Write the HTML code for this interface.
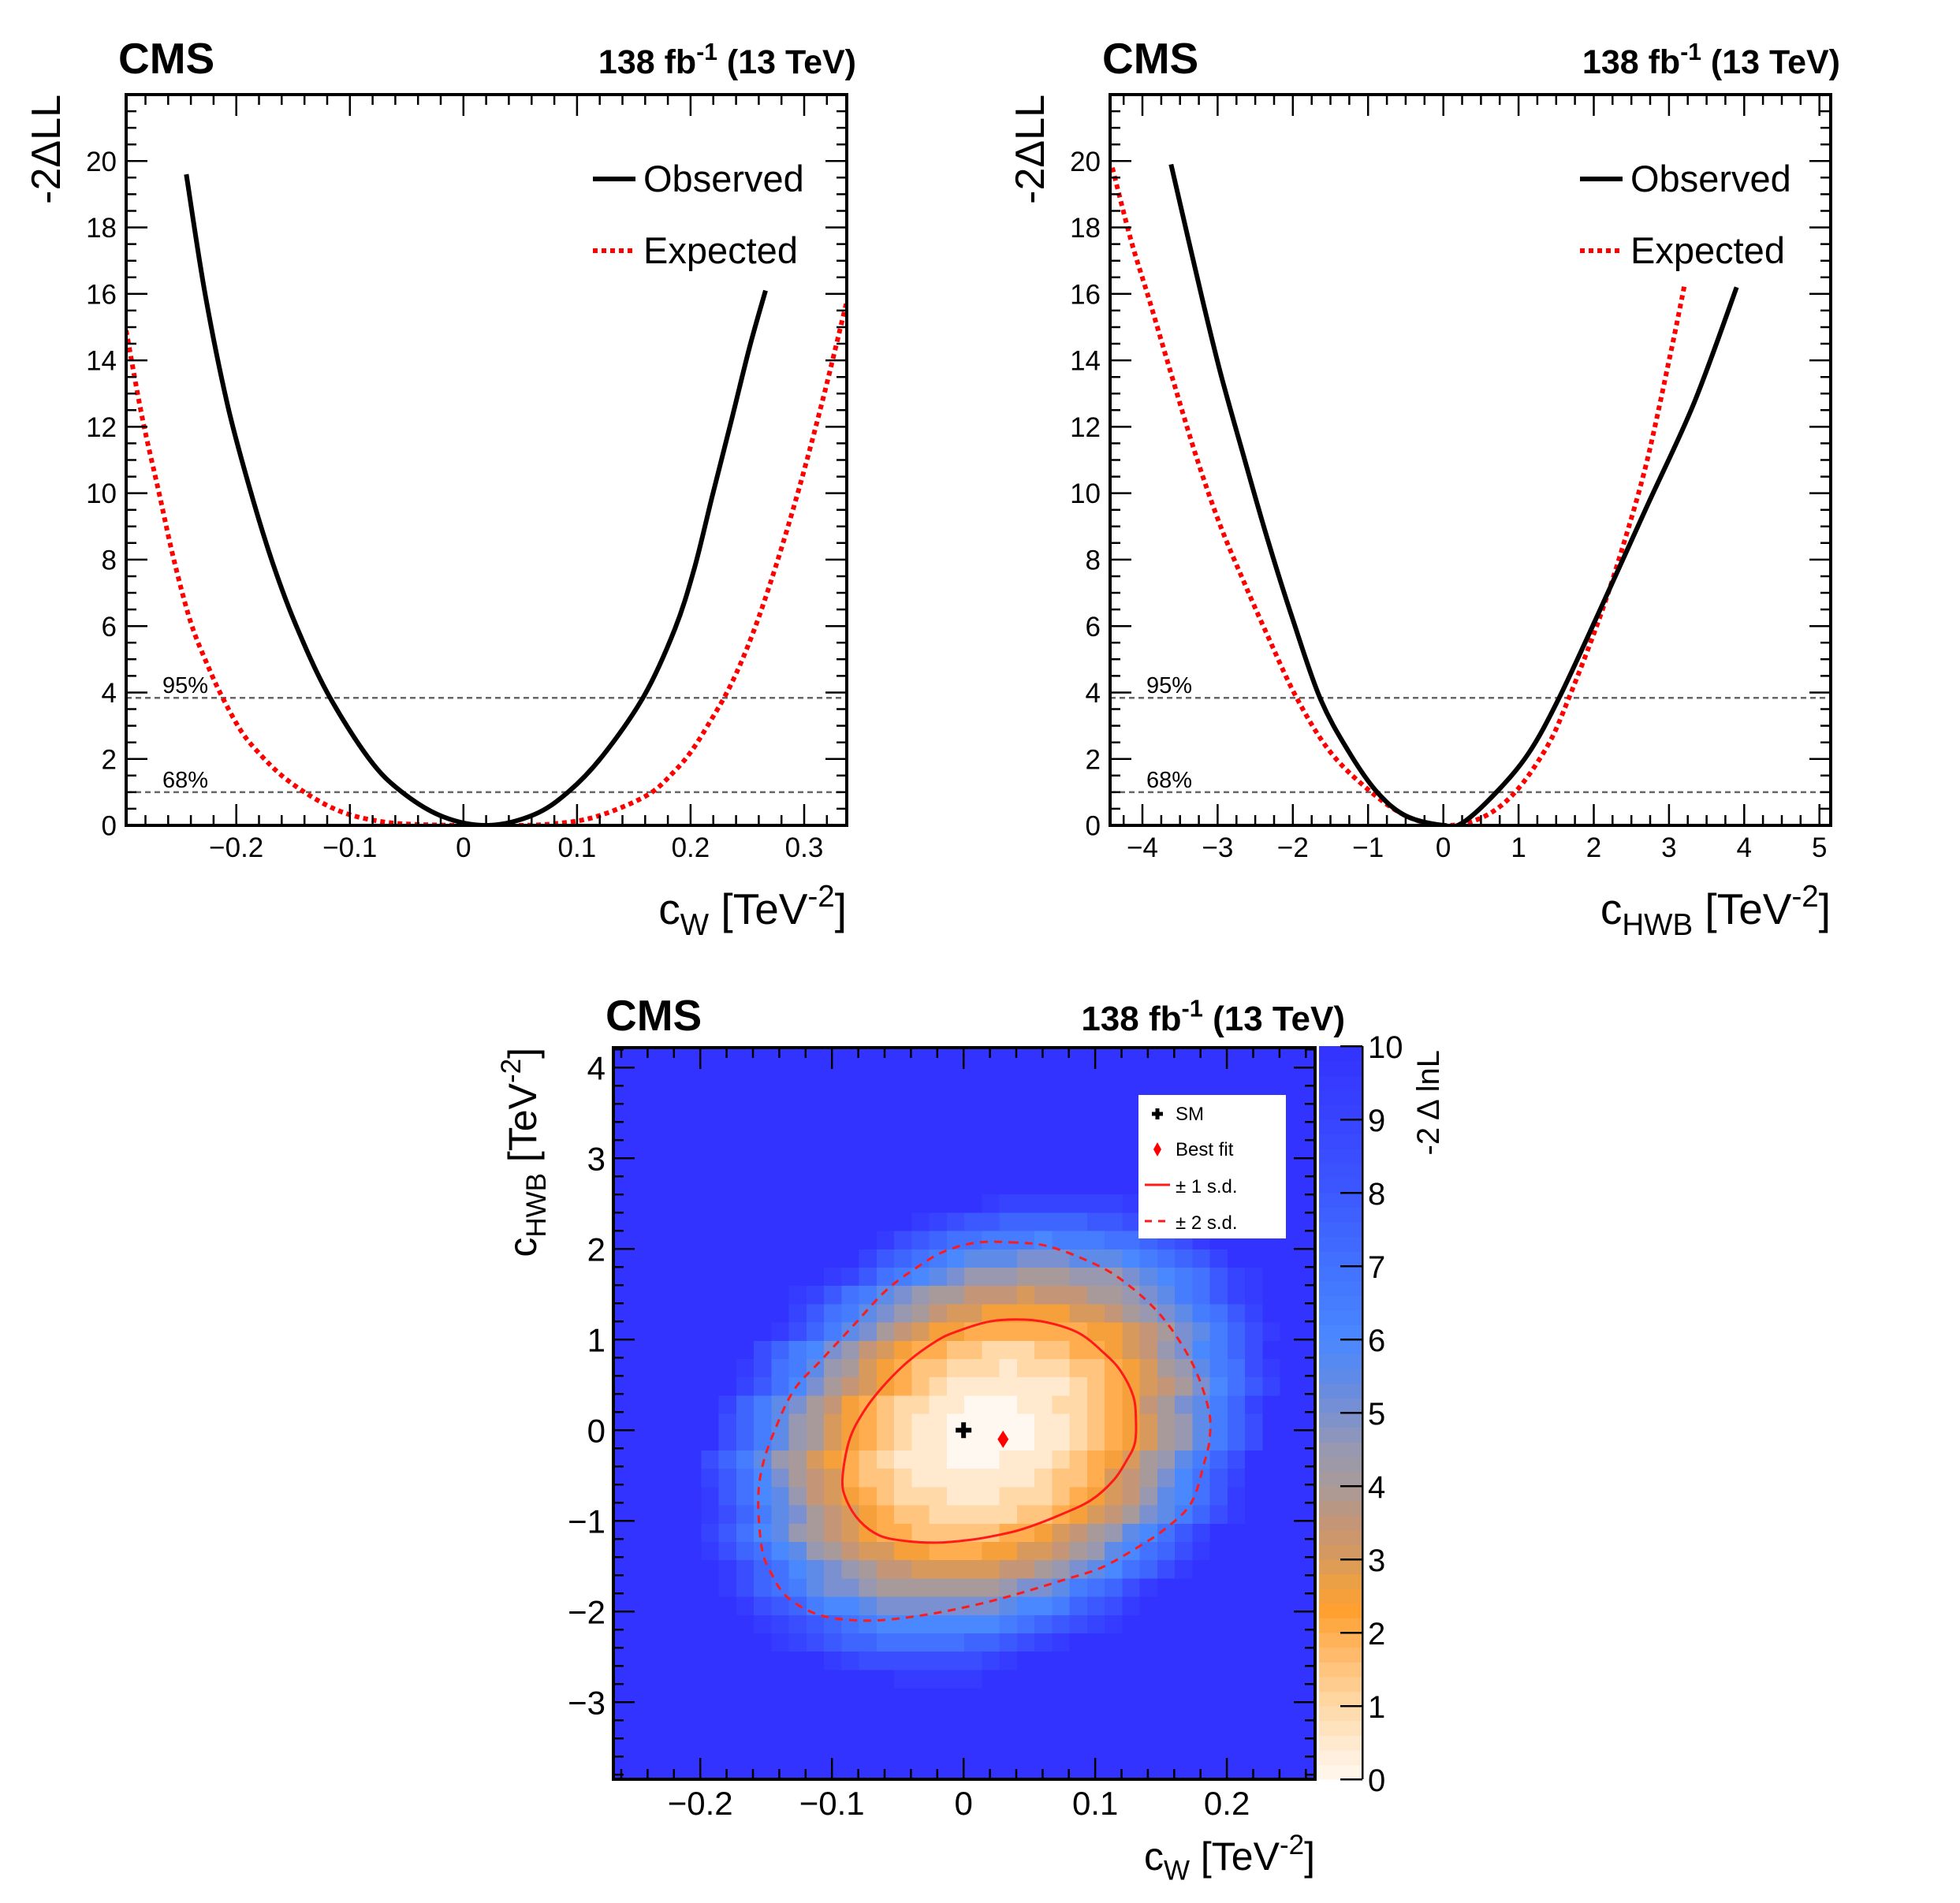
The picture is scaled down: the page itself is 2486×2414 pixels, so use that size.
<!DOCTYPE html>
<html><head><meta charset="utf-8"><style>
html,body{margin:0;padding:0;background:#fff}
svg{display:block}
text{font-family:"Liberation Sans",Helvetica,Arial,sans-serif;fill:#000}
</style></head><body>
<svg id="root" xmlns="http://www.w3.org/2000/svg" width="2486" height="2414" viewBox="0 0 2486 2414">
<rect x="0" y="0" width="2486" height="2414" fill="#fff"/>
<g id="p1"></g>
<g id="p2"></g>
<g id="p3"></g>
</svg>
<script>
// ---------------- data ----------------
const cwObsX = [-0.244,-0.228,-0.208,-0.187,-0.168,-0.148,-0.120,-0.083,-0.054,-0.018,0.022,0.062,0.092,0.122,0.159,0.186,0.203,0.219,0.236,0.252,0.266];
const cwObsY = [19.6,16.1,12.7,10.0,7.9,6.07,4.0,2.0,1.0,0.26,0,0.32,1.0,2.07,3.9,5.9,7.7,9.9,12.2,14.4,16.1];
const cwExpX = [-0.297,-0.283,-0.268,-0.255,-0.24,-0.225,-0.212,-0.195,-0.178,-0.16,-0.14,-0.12,-0.1,-0.075,-0.05,0,0.05,0.08,0.11,0.14,0.166,0.185,0.2,0.215,0.235,0.255,0.275,0.296,0.317,0.337];
const cwExpY = [14.9,12.3,10.0,8.0,6.1,4.8,3.84,2.8,2.1,1.5,1.0,0.6,0.32,0.13,0.04,0,0,0.05,0.2,0.55,1.0,1.6,2.2,3.0,4.2,5.8,7.8,10.2,12.9,15.7];
const hwbObsX = [-3.62,-3.21,-2.96,-2.64,-2.33,-2.01,-1.64,-1.26,-0.88,-0.5,0,0.25,0.69,1.13,1.54,2.08,2.7,3.33,3.9];
const hwbObsY = [19.9,15.9,13.6,11.0,8.56,6.26,3.84,2.23,1.0,0.29,0,0.07,0.96,2.16,3.84,6.47,9.57,12.7,16.2];
const hwbExpX = [-4.4,-4.15,-3.9,-3.58,-3.27,-2.96,-2.64,-2.33,-1.95,-1.51,-1.0,-0.5,0,0.5,0.94,1.38,1.67,2.08,2.39,2.7,3.02,3.21];
const hwbExpY = [19.8,17.6,15.75,13.3,11.0,9.0,7.27,5.68,3.84,2.23,1.08,0.29,0,0.22,0.96,2.37,3.84,6.26,8.42,10.9,14.2,16.3];
const cl68 = 1.0, cl95 = 3.84;
const p1XTicks = [-0.2,-0.1,0,0.1,0.2,0.3];
const p2XTicks = [-4,-3,-2,-1,0,1,2,3,4,5];
const p12YTicks = [0,2,4,6,8,10,12,14,16,18,20];
// 2D heatmap: 40 x 40 bins, rows bottom->top, char = 2*(-2ΔlnL) (0-9, a=10 ... k=20 i.e. 10)
const hmRows = [
"kkkkkkkkkkkkkkkkkkkkkkkkkkkkkkkkkkkkkkkk",
"kkkkkkkkkkkkkkkkkkkkkkkkkkkkkkkkkkkkkkkk",
"kkkkkkkkkkkkkkkkkkkkkkkkkkkkkkkkkkkkkkkk",
"kkkkkkkkkkkkkkkkkkkkkkkkkkkkkkkkkkkkkkkk",
"kkkkkkkkkkkkkkkkkkkkkkkkkkkkkkkkkkkkkkkk",
"kkkkkkkkkkkkkkkkjjjjjkkkkkkkkkkkkkkkkkkk",
"kkkkkkkkkkkkjihhhhhhhijkkkkkkkkkkkkkkkkk",
"kkkkkkkkkjihgffeeeeeffghijkkkkkkkkkkkkkk",
"kkkkkkkkjihgfedcccccccdefghijkkkkkkkkkkk",
"kkkkkkkjhgfdccbaaaaaaabccdfghjkkkkkkkkkk",
"kkkkkkjhfedbaa988888889aabdefhjkkkkkkkkk",
"kkkkkkjhfecba9877666667789abcefhjkkkkkkk",
"kkkkkjhfecb98766554445566789bcefhjkkkkkk",
"kkkkkigecb9876544333334456789bcegikkkkkk",
"kkkkkjhfdba8765433222223345678abdfhjkkkk",
"kkkkkjgecb976543222111222345679bcegjkkkk",
"kkkkkigeca876433211111112334678acegikkkk",
"kkkkkhfdb98654321110001112345689bdfhkkkk",
"kkkkkkhfdb98654321100000112345689bdfhkkk",
"kkkkkkhfdb98654321100000112345689bdfhkkk",
"kkkkkkifdba875432211000112234578abdfikkk",
"kkkkkkkigeca876543211111112345678acegikk",
"kkkkkkkjhedb986543322212223345689bdehjkk",
"kkkkkkkkhfdca9765443322233445679acdfhkkk",
"kkkkkkkkkjhfdba87655444444455678abdfhjkk",
"kkkkkkkkkkigedba987665555566789abdegikkk",
"kkkkkkkkkkjigedba9887776777889abdegijkkk",
"kkkkkkkkkkkkjigedcba999888999abcdegijkkk",
"kkkkkkkkkkkkkkigfedcbbbaaabbbcdefgikkkkk",
"kkkkkkkkkkkkkkkjhgfeedddcdddeefghjkkkkkk",
"kkkkkkkkkkkkkkkkkjihggfffffgghijkkkkkkkk",
"kkkkkkkkkkkkkkkkkkkkkjiiiiiiijkkkkkkkkkk",
"kkkkkkkkkkkkkkkkkkkkkkkkkkkkkkkkkkkkkkkk",
"kkkkkkkkkkkkkkkkkkkkkkkkkkkkkkkkkkkkkkkk",
"kkkkkkkkkkkkkkkkkkkkkkkkkkkkkkkkkkkkkkkk",
"kkkkkkkkkkkkkkkkkkkkkkkkkkkkkkkkkkkkkkkk",
"kkkkkkkkkkkkkkkkkkkkkkkkkkkkkkkkkkkkkkkk",
"kkkkkkkkkkkkkkkkkkkkkkkkkkkkkkkkkkkkkkkk",
"kkkkkkkkkkkkkkkkkkkkkkkkkkkkkkkkkkkkkkkk",
"kkkkkkkkkkkkkkkkkkkkkkkkkkkkkkkkkkkkkkkk"
];
const c1X = [0.047,0.020,-0.005,-0.020,-0.042,-0.062,-0.077,-0.087,-0.092,-0.089,-0.079,-0.064,-0.045,-0.020,0.005,0.025,0.045,0.074,0.097,0.114,0.124,0.130,0.131,0.129,0.119,0.106,0.089,0.069];
const c1Y = [1.22,1.20,1.09,0.99,0.76,0.47,0.18,-0.12,-0.54,-0.77,-1.00,-1.16,-1.22,-1.24,-1.21,-1.16,-1.09,-0.93,-0.77,-0.55,-0.33,-0.15,0.08,0.37,0.66,0.86,1.06,1.17];
const c2X = [0.040,0.010,-0.015,-0.035,-0.059,-0.084,-0.109,-0.129,-0.144,-0.153,-0.156,-0.153,-0.146,-0.134,-0.109,-0.074,-0.035,0.005,0.040,0.074,0.104,0.129,0.153,0.173,0.183,0.187,0.186,0.173,0.149,0.119,0.094,0.064];
const c2Y = [2.07,2.07,1.97,1.80,1.54,1.15,0.76,0.44,-0.02,-0.41,-0.80,-1.32,-1.58,-1.84,-2.04,-2.10,-2.05,-1.94,-1.81,-1.66,-1.52,-1.32,-1.09,-0.80,-0.35,-0.08,0.24,0.76,1.28,1.67,1.87,2.03];
const smPoint = [0, 0];
const bestFit = [0.03, -0.1];
const p3XTicks = [-0.2,-0.1,0,0.1,0.2];
const p3YTicks = [-3,-2,-1,0,1,2,3,4];
const zTicks = [0,1,2,3,4,5,6,7,8,9,10];

// ---------------- helpers ----------------
const NS = "http://www.w3.org/2000/svg";
function mk(parent, tag, attrs, text){
  const e = document.createElementNS(NS, tag);
  for (const k in attrs) e.setAttribute(k, attrs[k]);
  if (text !== undefined) e.textContent = text;
  parent.appendChild(e);
  return e;
}
function fmt(v){ const s = (Math.round(v*1000)/1000).toString(); return v < 0 ? "\u2212" + s.slice(1) : s; }
function axes(F){
  F.sx = v => F.x0 + (v - F.xmin) / (F.xmax - F.xmin) * (F.x1 - F.x0);
  F.sy = v => F.y1 - (v - F.ymin) / (F.ymax - F.ymin) * (F.y1 - F.y0);
  return F;
}
function smoothPath(F, xs, ys, closed){
  const P = xs.map((x,i)=>[F.sx(x), F.sy(ys[i])]);
  const n = P.length;
  let d = "M" + P[0][0].toFixed(1) + "," + P[0][1].toFixed(1);
  const get = i => closed ? P[(i+n)%n] : P[Math.max(0, Math.min(n-1, i))];
  const m = closed ? n : n-1;
  for (let i=0;i<m;i++){
    const p0=get(i-1), p1=get(i), p2=get(i+1), p3=get(i+2);
    const c1=[p1[0]+(p2[0]-p0[0])/6, p1[1]+(p2[1]-p0[1])/6];
    const c2=[p2[0]-(p3[0]-p1[0])/6, p2[1]-(p3[1]-p1[1])/6];
    d += "C"+c1[0].toFixed(1)+","+c1[1].toFixed(1)+" "+c2[0].toFixed(1)+","+c2[1].toFixed(1)+" "+p2[0].toFixed(1)+","+p2[1].toFixed(1);
  }
  if (closed) d += "Z";
  return d;
}
function drawTicks(g, F, xMajor, xMinorStep, yMajor, yMinorStep, maj, min){
  let d = "";
  const eps = 1e-9;
  for (let v = Math.ceil((F.xmin)/xMinorStep - eps)*xMinorStep; v <= F.xmax + eps; v += xMinorStep){
    const isMaj = xMajor.some(t => Math.abs(t - v) < xMinorStep/10);
    const L = isMaj ? maj : min; const x = F.sx(v);
    d += `M${x.toFixed(1)},${F.y1}v${-L}M${x.toFixed(1)},${F.y0}v${L}`;
  }
  for (let v = Math.ceil((F.ymin)/yMinorStep - eps)*yMinorStep; v <= F.ymax + eps; v += yMinorStep){
    const isMaj = yMajor.some(t => Math.abs(t - v) < yMinorStep/10);
    const L = isMaj ? maj : min; const y = F.sy(v);
    d += `M${F.x0},${y.toFixed(1)}h${L}M${F.x1},${y.toFixed(1)}h${-L}`;
  }
  const t = mk(g, "path", {d:d, stroke:"#000", "stroke-width":2.5, fill:"none"});
  
  
}
function tickLabels(g, F, xt, yt, fs, xBase, yOff){
  xt.forEach(v => {
    const t = mk(g, "text", {x:F.sx(v), y:xBase, "font-size":fs, "text-anchor":"middle"}, fmt(v));
    
    
  });
  yt.forEach(v => {
    const t = mk(g, "text", {x:F.x0 - yOff, y:F.sy(v) + fs*0.36, "font-size":fs, "text-anchor":"end"}, fmt(v));
    
    
  });
}
function header(g, cmsX, lumiX, base, fsC, fsL){
  const c = mk(g, "text", {x:cmsX, y:base, "font-size":fsC, "font-weight":"bold"}, "CMS");
  
  
  const l = mk(g, "text", {x:lumiX, y:base, "font-size":fsL, "font-weight":"bold", "text-anchor":"end"});
  
  
  mk(l, "tspan", {}, "138 fb");
  mk(l, "tspan", {dy:-fsL*0.4, "font-size":fsL*0.7}, "-1");
  mk(l, "tspan", {dy:fsL*0.4}, " (13 TeV)");
}
function xTitle(g, x, y, fs, sub, name){
  const t = mk(g, "text", {x:x, y:y, "font-size":fs, "text-anchor":"end"});
  
  
  mk(t, "tspan", {}, "c");
  mk(t, "tspan", {dy:fs*0.25, "font-size":fs*0.7}, sub);
  mk(t, "tspan", {dy:-fs*0.25}, " [TeV");
  mk(t, "tspan", {dy:-fs*0.4, "font-size":fs*0.7}, "-2");
  mk(t, "tspan", {dy:fs*0.4}, "]");
  return t;
}

// ---------------- 1D panels ----------------
function scanPanel(gid, F, obsX, obsY, expX, expY, xt, xMinor, subName, titleName, legX){
  const g = document.getElementById(gid);
  axes(F);
  const clip = "clip-" + gid;
  const cp = mk(g, "clipPath", {id:clip}); mk(cp, "rect", {x:F.x0, y:F.y0, width:F.x1-F.x0, height:F.y1-F.y0});
  [[cl95,"95%","cl95-line"],[cl68,"68%","cl68-line"]].forEach(([v,lab,nm]) => {
    const l = mk(g, "line", {x1:F.x0, x2:F.x1, y1:F.sy(v), y2:F.sy(v), stroke:"#666", "stroke-width":2.5, "stroke-dasharray":"7,5"});
    
    
    const t = mk(g, "text", {x:F.x0 + 46, y:F.sy(v) - 6, "font-size":29}, lab);
    
    
  });
  const e = mk(g, "path", {d:smoothPath(F, expX, expY, false), stroke:"#ff0000", "stroke-width":6, fill:"none", "stroke-dasharray":"6,5", "clip-path":`url(#${clip})`});
  
  
  const o = mk(g, "path", {d:smoothPath(F, obsX, obsY, false), stroke:"#000", "stroke-width":6, fill:"none", "clip-path":`url(#${clip})`});
  
  
  const fr = mk(g, "rect", {x:F.x0, y:F.y0, width:F.x1-F.x0, height:F.y1-F.y0, fill:"none", stroke:"#000", "stroke-width":4});
  
  
  drawTicks(g, F, xt, xMinor, p12YTicks, 0.5, 27, 13);
  tickLabels(g, F, xt, p12YTicks, 35, 1087, 12);
  header(g, F.x0 - 10, F.x1 + 12, 93, 55, 43);
  const yt = mk(g, "text", {transform:`translate(${F.x0-84},${F.y0}) rotate(-90)`, "font-size":52, "text-anchor":"end"}, "-2\u0394LL");
  
  
  xTitle(g, F.x1, 1172, 55, subName, titleName);
  // legend
  const lg = mk(g, "g", {});
  
  
  const l1 = mk(lg, "line", {x1:legX, x2:legX+54, y1:227, y2:227, stroke:"#000", "stroke-width":6});
  
  
  const t1 = mk(lg, "text", {x:legX+64, y:243, "font-size":47}, "Observed");
  
  
  const l2 = mk(lg, "line", {x1:legX, x2:legX+54, y1:318, y2:318, stroke:"#ff0000", "stroke-width":6, "stroke-dasharray":"6,5"});
  
  
  const t2 = mk(lg, "text", {x:legX+64, y:334, "font-size":47}, "Expected");
  
  
}
scanPanel("p1", {x0:160,x1:1074,y0:120,y1:1047,xmin:-0.297,xmax:0.3375,ymin:0,ymax:22}, cwObsX, cwObsY, cwExpX, cwExpY, p1XTicks, 0.02, "W", "x-axis-title-cw", 752);
scanPanel("p2", {x0:1408,x1:2322,y0:120,y1:1047,xmin:-4.43,xmax:5.15,ymin:0,ymax:22}, hwbObsX, hwbObsY, hwbExpX, hwbExpY, p2XTicks, 0.25, "HWB", "x-axis-title-chwb", 2004);

// ---------------- 2D panel ----------------
const cmapV = [0,0.5,1,1.5,2,2.3,2.7,3,3.5,4,4.5,5,5.5,6,7,8,9,10];
const cmapC = ["#fff8f0","#ffe9cf","#ffd9a8","#ffc47e","#ffad4f","#ffa030","#eba045","#d89a5c","#c49577","#a89a9a","#9898b0","#7a90d0","#5e8ae8","#4a88ff","#4272ff","#3c58ff","#3744ff","#3333ff"];
function hex(c){ return [1,3,5].map(i=>parseInt(c.substr(i,2),16)); }
function cmap(v){
  v = Math.max(0, Math.min(10, v));
  for (let i=0;i<cmapV.length-1;i++){
    if (v <= cmapV[i+1]){
      const t = (v-cmapV[i])/(cmapV[i+1]-cmapV[i]);
      const a = hex(cmapC[i]), b = hex(cmapC[i+1]);
      return "rgb(" + a.map((q,k)=>Math.round(q+(b[k]-q)*t)).join(",") + ")";
    }
  }
  return cmapC[cmapC.length-1];
}
(function(){
  const g = document.getElementById("p3");
  const F = axes({x0:778,x1:1668,y0:1329,y1:2257,xmin:-0.266,xmax:0.267,ymin:-3.85,ymax:4.22});
  const nx = 40, ny = hmRows.length;
  const dx = (F.xmax-F.xmin)/nx, dy = (F.ymax-F.ymin)/ny;
  const hg = mk(g, "g", {"shape-rendering":"crispEdges"});
  
  
  hmRows.forEach((row, j) => {
    for (let i=0;i<nx;i++){
      const ch = row[i] || "k";
      const val = parseInt(ch, 36) / 2;
      const xa = F.sx(F.xmin + i*dx), xb = F.sx(F.xmin + (i+1)*dx);
      const ya = F.sy(F.ymin + (j+1)*dy), yb = F.sy(F.ymin + j*dy);
      const r = mk(hg, "rect", {x:xa.toFixed(1), y:ya.toFixed(1), width:(xb-xa+0.6).toFixed(1), height:(yb-ya+0.6).toFixed(1), fill:cmap(val)});
      
      
    }
  });
  const p2 = mk(g, "path", {d:smoothPath(F, c2X, c2Y, true), stroke:"#ff1a1a", "stroke-width":3, fill:"none", "stroke-dasharray":"10,8"});
  
  
  const p1 = mk(g, "path", {d:smoothPath(F, c1X, c1Y, true), stroke:"#ff1a1a", "stroke-width":3, fill:"none"});
  
  
  const sx = F.sx(smPoint[0]), sy = F.sy(smPoint[1]);
  const sm = mk(g, "path", {d:`M${sx-10},${sy}h20M${sx},${sy-10}v20`, stroke:"#000", "stroke-width":6});
  
  
  const bx = F.sx(bestFit[0]), by = F.sy(bestFit[1]);
  const bf = mk(g, "path", {d:`M${bx},${by-11}L${bx+7},${by}L${bx},${by+11}L${bx-7},${by}Z`, fill:"#ff0000"});
  
  
  // legend
  const lg = mk(g, "g", {});
  
  
  mk(lg, "rect", {x:1444, y:1389, width:187, height:182, fill:"#fff"});
  const items = [["SM",1413],["Best fit",1458],["\u00b1 1 s.d.",1505],["\u00b1 2 s.d.",1551]];
  const m1 = mk(lg, "path", {d:"M1461,1413h14M1468,1406v14", stroke:"#000", "stroke-width":5});
  
  
  const m2 = mk(lg, "path", {d:"M1468,1449L1473,1458L1468,1467L1463,1458Z", fill:"#ff0000"});
  
  
  const m3 = mk(lg, "line", {x1:1452, x2:1484, y1:1503, y2:1503, stroke:"#ff1a1a", "stroke-width":3});
  
  
  const m4 = mk(lg, "line", {x1:1452, x2:1484, y1:1549, y2:1549, stroke:"#ff1a1a", "stroke-width":3, "stroke-dasharray":"9,8"});
  
  
  items.forEach(([lab,y]) => {
    const t = mk(lg, "text", {x:1491, y:y+8, "font-size":24}, lab);
    
    
  });
  const fr = mk(g, "rect", {x:F.x0, y:F.y0, width:F.x1-F.x0, height:F.y1-F.y0, fill:"none", stroke:"#000", "stroke-width":4});
  
  
  drawTicks(g, F, p3XTicks, 0.02, p3YTicks, 0.2, 27, 13);
  tickLabels(g, F, p3XTicks, p3YTicks, 42, 2302, 10);
  header(g, 768, 1706, 1307, 55, 44);
  xTitle(g, F.x1, 2372, 50, "W", "x-axis-title-cw");
  const yt = mk(g, "text", {transform:`translate(680,${F.y0}) rotate(-90)`, "font-size":50, "text-anchor":"end"});
  
  
  mk(yt, "tspan", {}, "c");
  mk(yt, "tspan", {dy:12, "font-size":35}, "HWB");
  mk(yt, "tspan", {dy:-12}, " [TeV");
  mk(yt, "tspan", {dy:-20, "font-size":35}, "-2");
  mk(yt, "tspan", {dy:20}, "]");
  // colorbar
  const cb = mk(g, "g", {"shape-rendering":"crispEdges"});
  
  
  const zy = v => 2257 - v*93;
  for (let k=0;k<50;k++){
    const v0 = k*0.2;
    const r = mk(cb, "rect", {x:1673, y:zy(v0+0.2), width:55, height:19.2, fill:cmap(v0+0.1)});
    
    
  }
  mk(cb, "line", {x1:1728, x2:1728, y1:zy(10), y2:zy(0), stroke:"#000", "stroke-width":2.5});
  zTicks.forEach(v => {
    mk(cb, "line", {x1:1700, x2:1728, y1:zy(v), y2:zy(v), stroke:"#000", "stroke-width":2.5});
    const t = mk(cb, "text", {x:1735, y:zy(v)+15, "font-size":40}, String(v));
    
    
  });
  const zt = mk(g, "text", {transform:"translate(1825,1332) rotate(-90)", "font-size":40, "text-anchor":"end"}, "-2 \u0394 lnL");
  
  
})();
</script>
</body></html>
